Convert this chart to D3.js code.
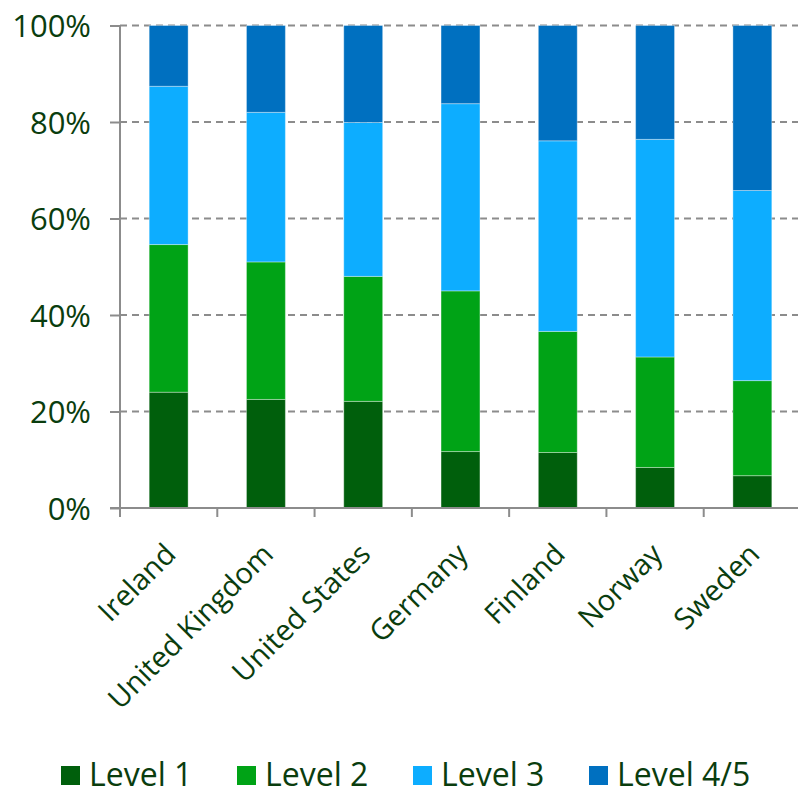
<!DOCTYPE html>
<html>
<head>
<meta charset="utf-8">
<script src="https://cdn.jsdelivr.net/npm/d3@7"></script>
<style>
  html, body { margin: 0; padding: 0; background: #fff; }
  svg { display: block; }
  text { font-family: "Open Sans", "Noto Sans", sans-serif; fill: #0a3d0e; }
</style>
</head>
<body>
<svg id="chart" width="798" height="794"></svg>
<script>
const categories = ["Ireland", "United Kingdom", "United States", "Germany", "Finland", "Norway", "Sweden"];
const seriesNames = ["Level 1", "Level 2", "Level 3", "Level 4/5"];
const level1 = [24.0, 22.5, 22.1, 11.7, 11.5, 8.4, 6.7];
const level2 = [30.6, 28.5, 25.9, 33.3, 25.1, 22.9, 19.7];
const level3 = [32.8, 31.0, 31.9, 38.8, 39.5, 45.1, 39.4];
const level45 = [12.6, 18.0, 20.1, 16.2, 23.9, 23.6, 34.2];
const yTicks = [0, 20, 40, 60, 80, 100];
const yTickLabels = ["0%", "20%", "40%", "60%", "80%", "100%"];
const colors = ["#005f0c", "#00a316", "#0dadff", "#0070c0"];

const seriesValues = [level1, level2, level3, level45];
const rows = categories.map((c, i) => {
  const r = { cat: c };
  seriesNames.forEach((s, k) => { r[s] = seriesValues[k][i]; });
  return r;
});

const svg = d3.select("#chart");
const pLeft = 120, pRight = 801, pTop = 25.5, pBottom = 508;

const x = d3.scaleBand().domain(categories).range([pLeft, pRight]).padding(0);
const y = d3.scaleLinear().domain([0, 100]).range([pBottom, pTop]);

// gridlines
svg.append("g").selectAll("line").data(yTicks.filter(d => d > 0)).join("line")
  .attr("x1", pLeft).attr("x2", 798)
  .attr("y1", d => y(d)).attr("y2", d => y(d))
  .attr("stroke", "#8c8c8c").attr("stroke-width", 2)
  .attr("stroke-dasharray", "7,5");

// bars
const stack = d3.stack().keys(seriesNames)(rows);
const barW = x.bandwidth() * 0.4;
svg.append("g").selectAll("g").data(stack).join("g")
  .attr("fill", (d, i) => colors[i])
  .selectAll("rect").data(d => d).join("rect")
  .attr("x", d => x(d.data.cat) + (x.bandwidth() - barW) / 2)
  .attr("width", barW)
  .attr("y", d => y(d[1]))
  .attr("height", d => y(d[0]) - y(d[1]))
  .attr("stroke", "rgba(255,255,255,0.35)")
  .attr("stroke-width", 1);

// y axis
const yAxis = svg.append("g").attr("transform", `translate(${pLeft},0)`)
  .call(d3.axisLeft(y).tickValues(yTicks).tickFormat((d, i) => yTickLabels[i]).tickSize(10).tickPadding(19));
yAxis.select(".domain").attr("stroke", "#8c8c8c").attr("stroke-width", 2)
  .attr("d", `M0,${pTop}V${pBottom + 8}`);
yAxis.selectAll(".tick line").attr("stroke", "#8c8c8c").attr("stroke-width", 2);
yAxis.selectAll(".tick text").style("font-size", "31px").style("fill", "#0a3d0e").attr("dy", "0.36em");

// x axis
const xAxis = svg.append("g").attr("transform", `translate(0,${pBottom})`)
  .call(d3.axisBottom(x).tickSize(0).tickFormat(""));
xAxis.select(".domain").attr("stroke", "#8c8c8c").attr("stroke-width", 2)
  .attr("d", `M${pLeft - 10},0H798`);
xAxis.selectAll(".tick").remove();
const boundaries = categories.map(c => x(c));
svg.append("g").selectAll("line").data(boundaries).join("line")
  .attr("x1", d => d).attr("x2", d => d)
  .attr("y1", pBottom).attr("y2", pBottom + 9)
  .attr("stroke", "#8c8c8c").attr("stroke-width", 2);

// x labels
svg.append("g").selectAll("text").data(categories).join("text")
  .attr("transform", d => `translate(${x(d) + x.bandwidth() / 2 + 9},${pBottom + 48}) rotate(-45)`)
  .attr("text-anchor", "end")
  .style("font-size", "29px")
  .text(d => d);

// legend
const legendX = [61, 237, 413, 589];
const lg = svg.append("g").selectAll("g").data(seriesNames).join("g")
  .attr("transform", (d, i) => `translate(${legendX[i]},766)`);
lg.append("rect").attr("width", 19).attr("height", 19).attr("fill", (d, i) => colors[i]);
lg.append("text").attr("x", 28).attr("y", 19.5).style("font-size", "32px").text(d => d);
</script>
</body>
</html>
